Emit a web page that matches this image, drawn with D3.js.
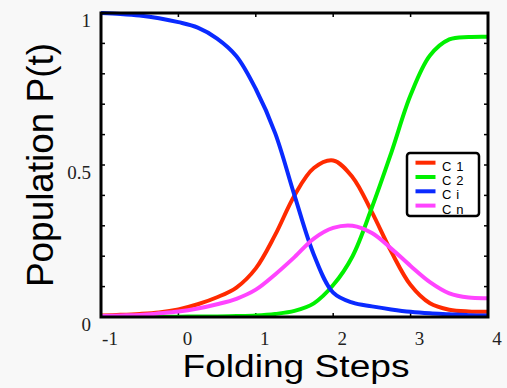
<!DOCTYPE html>
<html lang="en">
<head>
  <meta charset="UTF-8">
  <title>Population P(t)</title>
  <script src="https://d3js.org/d3.v7.min.js"></script>
  <style>
    body {
      margin: 0;
      background: #f8f8f8;
    }
    .tick-label {
      font-family: "Liberation Serif", "DejaVu Serif", serif;
      font-size: 19px;
      fill: #222;
    }
    .axis-title {
      font-family: "Liberation Sans", Arial, sans-serif;
      fill: #000;
    }
    .legend-text {
      font-family: "Liberation Sans", Arial, sans-serif;
      font-size: 13px;
      letter-spacing: 0.6px;
      fill: #000;
    }
  </style>
</head>
<body>
  <div id="chart"></div>

  <script>
    const steps = [-1, -0.75, -0.5, -0.25, 0, 0.25, 0.5, 0.75, 1, 1.25, 1.5, 1.75, 2, 2.25, 2.5, 2.75, 3, 3.25, 3.5, 3.75, 4];
    const c1 = [0.005, 0.007, 0.01, 0.015, 0.025, 0.042, 0.065, 0.097, 0.16, 0.27, 0.40, 0.49, 0.515, 0.46, 0.345, 0.215, 0.105, 0.045, 0.024, 0.018, 0.017];
    const c2 = [0.0, 0.0, 0.0, 0.001, 0.001, 0.002, 0.002, 0.003, 0.005, 0.01, 0.02, 0.045, 0.105, 0.20, 0.36, 0.54, 0.73, 0.86, 0.913, 0.921, 0.922];
    const ci = [1.0, 0.997, 0.992, 0.983, 0.97, 0.952, 0.916, 0.858, 0.75, 0.605, 0.40, 0.205, 0.08, 0.047, 0.035, 0.025, 0.017, 0.012, 0.009, 0.006, 0.005];
    const cn = [0.003, 0.005, 0.007, 0.012, 0.018, 0.028, 0.042, 0.06, 0.09, 0.14, 0.197, 0.258, 0.293, 0.30, 0.276, 0.225, 0.168, 0.115, 0.078, 0.064, 0.062];

    const seriesNames = ["C 1", "C 2", "C i", "C n"];
    const seriesColors = ["#ff2a00", "#00f000", "#0a2aff", "#ff44ff"];
    const xTicks = [-1, 0, 1, 2, 3, 4];
    const yLabels = [0, 0.5, 1];
    const yMinor = d3.range(0, 1.01, 0.1);

    const W = 507, H = 388;
    const plot = { left: 101, right: 488, top: 13, bottom: 317 };

    const svg = d3.select("#chart").append("svg")
      .attr("width", W)
      .attr("height", H);

    const x = d3.scaleLinear().domain([-1, 4]).range([plot.left, plot.right]);
    const y = d3.scaleLinear().domain([0, 1]).range([plot.bottom, plot.top]);

    svg.append("rect")
      .attr("x", plot.left).attr("y", plot.top)
      .attr("width", plot.right - plot.left)
      .attr("height", plot.bottom - plot.top)
      .attr("fill", "#fff");

    svg.append("clipPath").attr("id", "plotclip")
      .append("rect")
      .attr("x", plot.left).attr("y", plot.top - 3)
      .attr("width", plot.right - plot.left)
      .attr("height", plot.bottom - plot.top + 3);

    // inside ticks
    const tickG = svg.append("g").attr("stroke", "#000").attr("stroke-width", 1.5);
    yMinor.forEach(v => {
      tickG.append("line").attr("x1", plot.left).attr("x2", plot.left + 4).attr("y1", y(v)).attr("y2", y(v));
      tickG.append("line").attr("x1", plot.right).attr("x2", plot.right - 4).attr("y1", y(v)).attr("y2", y(v));
    });
    xTicks.forEach(v => {
      tickG.append("line").attr("x1", x(v)).attr("x2", x(v)).attr("y1", plot.top).attr("y2", plot.top + 4);
      tickG.append("line").attr("x1", x(v)).attr("x2", x(v)).attr("y1", plot.bottom).attr("y2", plot.bottom - 4);
    });

    const allSeries = [c1, c2, ci, cn];
    const line = d3.line()
      .x((d, i) => x(steps[i]))
      .y(d => y(d))
      .curve(d3.curveCatmullRom.alpha(0.5));

    svg.append("g").attr("clip-path", "url(#plotclip)")
      .selectAll("path")
      .data(allSeries)
      .enter()
      .append("path")
      .attr("d", d => line(d))
      .attr("fill", "none")
      .attr("stroke", (d, i) => seriesColors[i])
      .attr("stroke-width", 4)
      .attr("stroke-linejoin", "round");

    // frame
    svg.append("rect")
      .attr("x", plot.left).attr("y", plot.top)
      .attr("width", plot.right - plot.left)
      .attr("height", plot.bottom - plot.top)
      .attr("fill", "none")
      .attr("stroke", "#000")
      .attr("stroke-width", 3);

    // tick labels
    svg.selectAll(".xl").data(xTicks).enter().append("text")
      .attr("class", "tick-label")
      .attr("x", d => x(d) + 9)
      .attr("y", 345)
      .attr("text-anchor", "middle")
      .text(d => d);

    svg.selectAll(".yl").data(yLabels).enter().append("text")
      .attr("class", "tick-label")
      .attr("x", 91)
      .attr("y", d => y(d) + 14)
      .attr("text-anchor", "end")
      .text(d => d);

    // axis titles
    svg.append("text")
      .attr("class", "axis-title")
      .attr("x", 296).attr("y", 377)
      .attr("text-anchor", "middle")
      .attr("font-size", 31)
      .attr("textLength", 227)
      .attr("lengthAdjust", "spacingAndGlyphs")
      .text("Folding Steps");

    svg.append("text")
      .attr("class", "axis-title")
      .attr("transform", "translate(53,165) rotate(-90)")
      .attr("text-anchor", "middle")
      .attr("font-size", 36)
      .attr("textLength", 244)
      .attr("lengthAdjust", "spacingAndGlyphs")
      .text("Population P(t)");

    // legend (last entry is cut by the box, as in the original)
    const lg = { x: 407, y: 153, w: 72, h: 63 };
    svg.append("clipPath").attr("id", "legclip")
      .append("rect").attr("x", lg.x).attr("y", lg.y).attr("width", lg.w).attr("height", lg.h);

    svg.append("rect")
      .attr("x", lg.x).attr("y", lg.y).attr("width", lg.w).attr("height", lg.h)
      .attr("rx", 3)
      .attr("fill", "#fff");

    const legG = svg.append("g").attr("clip-path", "url(#legclip)");
    seriesNames.forEach((name, i) => {
      const ly = 162.7 + i * 14.3;
      legG.append("line")
        .attr("x1", 415.5).attr("x2", 435.5)
        .attr("y1", ly).attr("y2", ly)
        .attr("stroke", seriesColors[i])
        .attr("stroke-width", 4);
      legG.append("text")
        .attr("class", "legend-text")
        .attr("x", 442).attr("y", ly + 8)
        .attr("xml:space", "preserve")
        .text(name);
    });

    svg.append("rect")
      .attr("x", lg.x).attr("y", lg.y).attr("width", lg.w).attr("height", lg.h)
      .attr("rx", 3)
      .attr("fill", "none")
      .attr("stroke", "#000")
      .attr("stroke-width", 2.5);
  </script>
</body>
</html>
